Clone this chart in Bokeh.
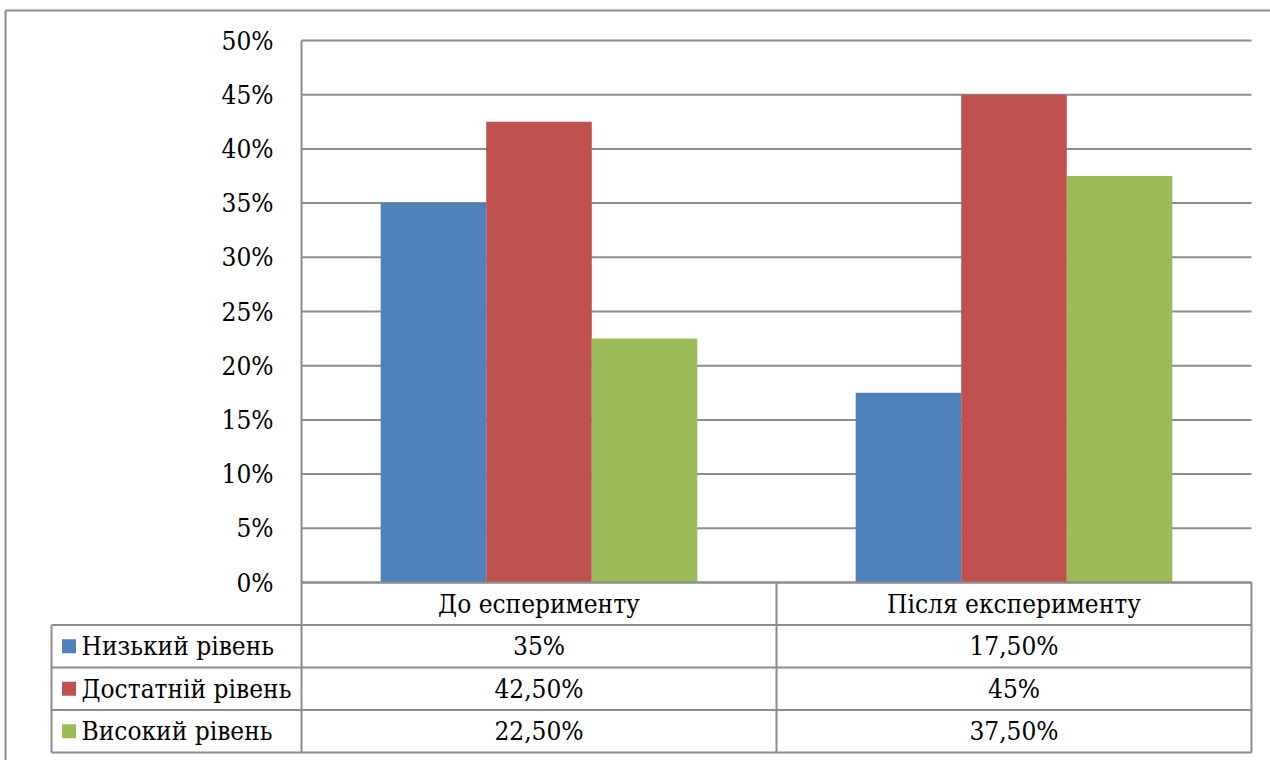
from bokeh.plotting import figure
from bokeh.models import Range1d
from bokeh.embed import file_html
from bokeh.resources import INLINE
from bokeh.core.properties import value

# ---- data ----
categories = ["До есперименту", "Після експерименту"]
series_names = ["Низький рівень", "Достатній рівень", "Високий рівень"]
low = [0.35, 0.175]
sufficient = [0.425, 0.45]
high = [0.225, 0.375]
y_ticks = [0.0, 0.05, 0.10, 0.15, 0.20, 0.25, 0.30, 0.35, 0.40, 0.45, 0.50]
y_tick_labels = ["0%", "5%", "10%", "15%", "20%", "25%", "30%", "35%", "40%", "45%", "50%"]

series = [low, sufficient, high]
colors = ["#4F81BD", "#C0504D", "#9BBB59"]

# ---- layout (pixel geometry of the canvas) ----
W, H = 1270, 760
X0, CW = 301, 475.0     # left edge of plot area, width of one category (px)
Y0, YS = 582, 1084.0    # pixel row of 0 %, pixels per unit
LINE = "#8C8C8C"
FONT = value("DejaVu Serif Condensed")
FS = "26px"


def dx(px):
    return (px - X0) / CW


def dy(py):
    return (Y0 - py) / YS


p = figure(width=W, height=H, output_backend="svg", toolbar_location=None,
           x_range=Range1d(dx(0), dx(W)), y_range=Range1d(dy(H), dy(0)),
           x_axis_type=None, y_axis_type=None, min_border=0)
p.outline_line_color = None
p.background_fill_color = "white"
p.border_fill_color = "white"

n = len(categories)
# horizontal gridlines
p.segment(x0=[0] * len(y_ticks), x1=[n] * len(y_ticks), y0=y_ticks, y1=y_ticks,
          line_color=LINE, line_width=2)

# clustered bars (Excel gap width 150 %)
bw = 1.0 / (len(series) + 1.5)
for k, (vals, col) in enumerate(zip(series, colors)):
    xs = [i + 0.5 + (k - 1) * bw for i in range(n)]
    p.vbar(x=xs, top=vals, bottom=0, width=bw, fill_color=col, line_color=None)

# y tick labels
p.text(x=[dx(273)] * len(y_ticks), y=y_ticks, text=y_tick_labels,
       text_font=FONT, text_font_size=FS, text_align="right",
       text_baseline="middle", text_color="black")

# data table grid
row_edges = [582, 624.5, 667, 709.5, 752]
TL = 51
right = X0 + CW * n
hx0, hx1, hy0, hy1 = [], [], [], []
hx0.append(dx(X0)); hx1.append(dx(right)); hy0.append(dy(row_edges[0])); hy1.append(dy(row_edges[0]))
for e in row_edges[1:]:
    hx0.append(dx(TL)); hx1.append(dx(right)); hy0.append(dy(e)); hy1.append(dy(e))
hx0 += [dx(X0), dx(TL)]
hx1 += [dx(X0), dx(TL)]
hy0 += [dy(40), dy(row_edges[1])]
hy1 += [dy(row_edges[-1]), dy(row_edges[-1])]
for i in range(1, n + 1):
    hx0.append(i); hx1.append(i); hy0.append(dy(row_edges[0])); hy1.append(dy(row_edges[-1]))
# outer chart border (top and left visible)
hx0 += [dx(5), dx(5)]
hx1 += [dx(W), dx(5)]
hy0 += [dy(10), dy(10)]
hy1 += [dy(10), dy(H)]
p.segment(x0=hx0, x1=hx1, y0=hy0, y1=hy1, line_color=LINE, line_width=2)

# category labels (header row)
hc = dy((row_edges[0] + row_edges[1]) / 2)
p.text(x=[i + 0.5 for i in range(n)], y=[hc] * n, text=categories,
       text_font=FONT, text_font_size=FS, text_align="center",
       text_baseline="middle", text_color="black")


def fmt(v):
    pct = round(v * 100, 4)
    if abs(pct - round(pct)) < 1e-9:
        return f"{int(round(pct))}%"
    return f"{pct:.2f}".replace(".", ",") + "%"


for k, (name, vals, col) in enumerate(zip(series_names, series, colors)):
    yc = dy((row_edges[k + 1] + row_edges[k + 2]) / 2)
    p.scatter(x=[dx(68.5)], y=[yc], marker="square", size=14,
              fill_color=col, line_color=None)
    p.text(x=[dx(81)], y=[yc], text=[name], text_font=FONT, text_font_size=FS,
           text_align="left", text_baseline="middle", text_color="black")
    p.text(x=[i + 0.5 for i in range(n)], y=[yc] * n, text=[fmt(v) for v in vals],
           text_font=FONT, text_font_size=FS, text_align="center",
           text_baseline="middle", text_color="black")

open("out.html", "w").write(file_html(p, INLINE))
